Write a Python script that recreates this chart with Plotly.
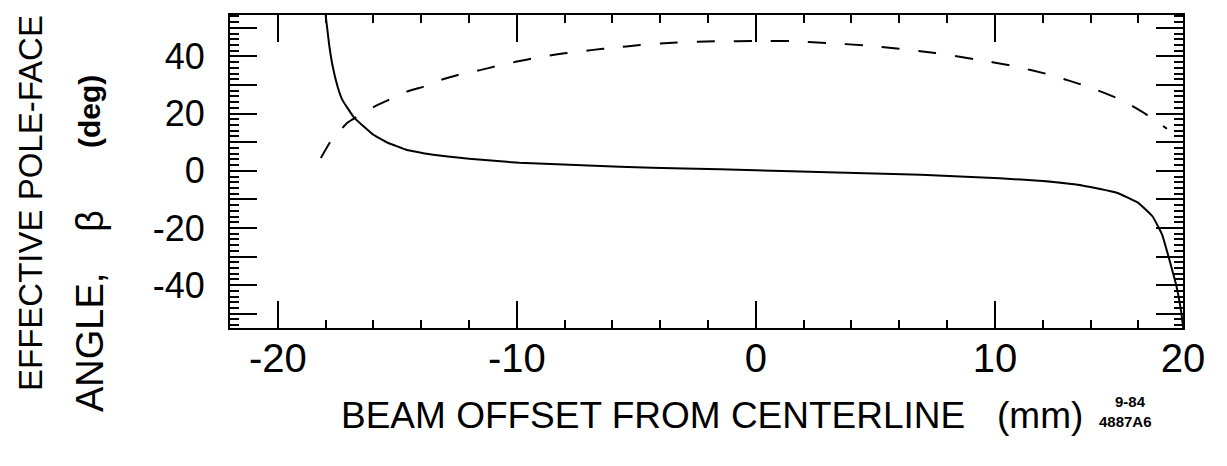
import plotly.graph_objects as go

# Solid curve: effective pole-face angle vs beam offset
solid_x = [-18.0, -17.85, -17.7, -17.5, -17.3, -16.8, -16.0, -15.4, -14.6, -13.5, -12.0, -9.9, -7.8, -5.7, -3.0,
           0.0, 3.0, 6.9, 10.2, 12.0, 13.7, 15.1, 16.0, 16.6, 17.0, 17.3, 17.6, 17.8, 17.88]
solid_y = [54.5, 44.0, 36.4, 29.5, 24.8, 18.5, 12.6, 9.8, 7.3, 5.6, 4.2, 2.8, 2.1, 1.4, 0.8,
           0.2, -0.5, -1.4, -2.6, -3.6, -5.2, -7.7, -11.2, -16.0, -22.4, -31.1, -40.5, -49.7, -55.0]

# Dashed curve
dash_x = [-18.2, -17.8, -17.1, -16.0, -15.3, -14.6, -13.8, -13.1, -12.3, -11.5, -10.8, -10.0, -9.2,
          -8.3, -7.7, -6.8, -6.0, -4.85, -3.3, -1.6, 0.0, 1.4, 3.0, 4.5, 6.0, 7.5, 9.1, 10.7,
          12.3, 13.9, 15.3, 16.3, 17.2]
dash_y = [4.5, 10.2, 16.7, 22.3, 25.0, 27.7, 29.7, 32.0, 33.9, 35.3, 36.7, 38.2, 39.5,
          40.8, 41.4, 42.3, 43.0, 44.0, 44.9, 45.3, 45.4, 45.4, 44.7, 43.9, 42.7, 41.2, 39.1, 36.8,
          33.6, 29.4, 24.8, 19.9, 14.7]

x_tick_vals = [-20, -10, 0, 10, 17.87]
x_tick_text = ["-20", "-10", "0", "10", "20"]
y_tick_vals = [-50, -40, -30, -20, -10, 0, 10, 20, 30, 40, 50]
y_tick_text = ["", "-40", "", "-20", "", "0", "", "20", "", "40", ""]

FONT = "Liberation Sans"

fig = go.Figure()
fig.add_trace(go.Scatter(x=solid_x, y=solid_y, mode="lines",
                         line=dict(color="black", width=2, shape="spline", smoothing=0.3)))
fig.add_trace(go.Scatter(x=dash_x, y=dash_y, mode="lines",
                         line=dict(color="black", width=2, dash="18px,19px", shape="spline", smoothing=0.3)))

fig.update_layout(
    width=1227, height=466,
    margin=dict(l=230, r=44, t=15, b=138),
    paper_bgcolor="white", plot_bgcolor="white",
    showlegend=False,
    xaxis=dict(range=[-22.0, 17.87], tickvals=x_tick_vals, ticktext=x_tick_text,
               ticks="inside", ticklen=27, tickwidth=2, tickcolor="black",
               minor=dict(dtick=2, tick0=0, ticks="inside", ticklen=8, tickwidth=2, tickcolor="black"),
               showline=True, linecolor="black", linewidth=2, mirror="ticks",
               showgrid=False, zeroline=False,
               tickfont=dict(family=FONT, size=40, color="black"), ticklabelstandoff=-6),
    yaxis=dict(range=[-55.0, 54.5], tickvals=y_tick_vals, ticktext=y_tick_text,
               ticks="inside", ticklen=27, tickwidth=2, tickcolor="black",
               minor=dict(dtick=2, tick0=0, ticks="inside", ticklen=9, tickwidth=1.5, tickcolor="black"),
               showline=True, linecolor="black", linewidth=2, mirror="ticks",
               showgrid=False, zeroline=False,
               tickfont=dict(family=FONT, size=36, color="black"), ticklabelstandoff=16),
)

ann = [
    dict(text="BEAM OFFSET FROM CENTERLINE", x=653, y=415, font=dict(family=FONT, size=37)),
    dict(text="(mm)", x=1040, y=415, font=dict(family=FONT, size=37)),
    dict(text="<b>9-84</b>", x=1130, y=401, font=dict(family=FONT, size=15)),
    dict(text="<b>4887A6</b>", x=1125, y=421, font=dict(family=FONT, size=15)),
    dict(text="EFFECTIVE POLE-FACE", x=30, y=203, textangle=-90, font=dict(family=FONT, size=33)),
    dict(text="ANGLE,", x=90, y=343, textangle=-90, font=dict(family=FONT, size=38)),
    dict(text="β", x=90, y=221, textangle=-90, font=dict(family=FONT, size=38)),
    dict(text="<b>(deg)</b>", x=90, y=112, textangle=-90, font=dict(family=FONT, size=30)),
]
for a in ann:
    fig.add_annotation(text=a["text"], xref="paper", yref="paper",
                       x=(a["x"] - 230) / (1227 - 230 - 44), y=1 - (a["y"] - 15) / (466 - 15 - 138),
                       xanchor="center", yanchor="middle", showarrow=False,
                       textangle=a.get("textangle", 0),
                       font=dict(color="black", **a["font"]))

fig.write_html("out.html")
